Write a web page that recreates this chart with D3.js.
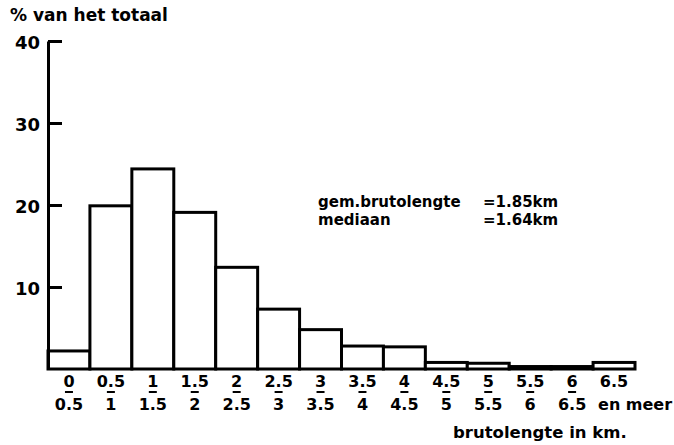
<!DOCTYPE html>
<html>
<head>
<meta charset="utf-8">
<script src="https://cdn.jsdelivr.net/npm/d3@7"></script>
<style>
  body { margin: 0; background: #fff; }
  svg text { font-family: "DejaVu Sans", sans-serif; font-weight: bold; fill: #000; }
</style>
</head>
<body>
<div id="chart"></div>
<script>
// bin labels (top / bottom of each fraction-style label)
const binFrom = ["0", "0.5", "1", "1.5", "2", "2.5", "3", "3.5", "4", "4.5", "5", "5.5", "6", "6.5"];
const binTo = ["0.5", "1", "1.5", "2", "2.5", "3", "3.5", "4", "4.5", "5", "5.5", "6", "6.5", "en meer"];
// percentage of total per bin
const percent = [2.2, 19.9, 24.4, 19.1, 12.4, 7.3, 4.8, 2.8, 2.7, 0.8, 0.7, 0.3, 0.3, 0.8];
const yTicks = [10, 20, 30, 40];

var width = 674;
var height = 445;

var svg = d3.select("#chart")
    .append("svg")
    .attr("width", width)
    .attr("height", height);

var x = d3.scaleBand()
    .domain(binFrom)
    .range([48, 635])
    .padding(0);

var y = d3.scaleLinear()
    .domain([0, 40])
    .range([369, 41]);

// bars
svg.selectAll(".bar")
    .data(percent)
    .enter().append("rect")
    .attr("class", "bar")
    .attr("x", function (d, i) { return x(binFrom[i]); })
    .attr("y", function (d) { return y(d); })
    .attr("width", x.bandwidth())
    .attr("height", function (d) { return y(0) - y(d); })
    .attr("fill", "#fff")
    .attr("stroke", "#000")
    .attr("stroke-width", 3);

// y axis, ticks pointing into the plot
var yAxis = d3.axisLeft(y)
    .tickValues(yTicks)
    .tickSizeInner(-14)
    .tickSizeOuter(0)
    .tickPadding(8)
    .tickFormat(d3.format("d"));

var gy = svg.append("g")
    .attr("transform", "translate(48,0)")
    .call(yAxis);
gy.select(".domain").attr("stroke", "#000").attr("stroke-width", 3);
gy.selectAll(".tick line").attr("stroke", "#000").attr("stroke-width", 3);
gy.selectAll(".tick text")
    .style("font-size", "18px")
    .style("font-family", "DejaVu Sans")
    .style("font-weight", "bold")
    .attr("dy", "0.4em");

// x labels, fraction style
var xl = svg.selectAll(".xlab")
    .data(binFrom)
    .enter().append("g")
    .attr("class", "xlab")
    .attr("transform", function (d) { return "translate(" + (x(d) + x.bandwidth() / 2) + ",0)"; });

xl.append("text")
    .attr("y", 387)
    .attr("text-anchor", "middle")
    .style("font-size", "16px")
    .text(function (d) { return d; });

xl.filter(function (d, i) { return binTo[i] !== "en meer"; })
    .append("line")
    .attr("x1", -4)
    .attr("x2", 4)
    .attr("y1", 392)
    .attr("y2", 392)
    .attr("stroke", "#000")
    .attr("stroke-width", 2);

xl.append("text")
    .attr("y", 410)
    .attr("text-anchor", function (d, i) { return binTo[i] === "en meer" ? "start" : "middle"; })
    .attr("x", function (d, i) { return binTo[i] === "en meer" ? -16 : 0; })
    .style("font-size", "16px")
    .text(function (d, i) { return binTo[i]; });

// axis titles
svg.append("text")
    .attr("x", 10)
    .attr("y", 21)
    .style("font-size", "17px")
    .text("% van het totaal");

svg.append("text")
    .attr("x", 453)
    .attr("y", 438)
    .style("font-size", "16.5px")
    .text("brutolengte in km.");

// summary note
var note = svg.append("text")
    .style("font-size", "15px");
note.append("tspan").attr("x", 318).attr("y", 207).text("gem.brutolengte");
note.append("tspan").attr("x", 483).attr("y", 207).text("=1.85km");
note.append("tspan").attr("x", 318).attr("y", 225).text("mediaan");
note.append("tspan").attr("x", 483).attr("y", 225).text("=1.64km");
</script>
</body>
</html>
